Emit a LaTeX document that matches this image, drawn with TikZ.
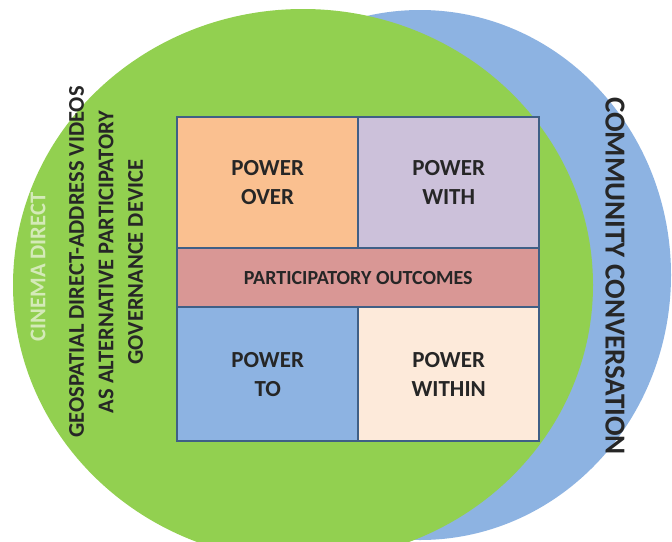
\documentclass[tikz,border=0pt]{standalone}
\usepackage{fontspec}
\setmainfont{Carlito}
\begin{document}
\begin{tikzpicture}[x=1pt,y=-1pt,
  every node/.style={font=\bfseries, text=inkdark, inner sep=0pt},
  cell/.style={draw=edgeblue, line width=2.4pt, anchor=north west, align=center,
               font=\bfseries\fontsize{23}{29}\selectfont},
  sidetext/.style={align=center, font=\bfseries\fontsize{22.5}{29.5}\selectfont}]
\definecolor{inkdark}{HTML}{262626}
\definecolor{edgeblue}{HTML}{3F5F86}
\definecolor{greenbg}{HTML}{92D050}
\definecolor{bluebg}{HTML}{8DB3E2}
\definecolor{overfill}{HTML}{FAC090}
\definecolor{withfill}{HTML}{CCC1DA}
\definecolor{outfill}{HTML}{D99795}
\definecolor{tofill}{HTML}{8DB3E2}
\definecolor{withinfill}{HTML}{FDEADA}
\definecolor{cinema}{HTML}{D4EAB8}
\fill[white] (0,0) rectangle (672,541);
\clip (0,0) rectangle (672,541);
% the two overlapping fields
\fill[bluebg] (420,275) ellipse [x radius=251pt, y radius=265pt];
\fill[greenbg] (303,285) ellipse [x radius=290pt, y radius=276pt];
% the four power quadrants and the central band
\node[cell, fill=overfill, minimum width=181pt, minimum height=131pt] (over) at (176,116) {POWER\\OVER};
\node[cell, fill=withfill, minimum width=181pt, minimum height=131pt] (with) at (357,116) {POWER\\WITH};
\node[cell, fill=outfill, minimum width=362pt, minimum height=59pt,
      font=\bfseries\fontsize{20}{22}\selectfont] (outcomes) at (176,247) {PARTICIPATORY OUTCOMES};
\node[cell, fill=tofill, minimum width=181pt, minimum height=134pt] (to) at (176,306) {POWER\\TO};
\node[cell, fill=withinfill, minimum width=181pt, minimum height=134pt] (within) at (357,306) {POWER\\WITHIN};
% side captions
\node[rotate=90, text=cinema, font=\bfseries\fontsize{22.5}{25}\selectfont] (cd) at (38,267) {CINEMA DIRECT};
\node[sidetext, rotate=90] (device) at (106,262) {GEOSPATIAL DIRECT-ADDRESS VIDEOS\\AS ALTERNATIVE PARTICIPATORY\\GOVERNANCE DEVICE};
\node[rotate=-90, font=\bfseries\fontsize{29}{32}\selectfont] (cc) at (615,276) {COMMUNITY CONVERSATION};
\end{tikzpicture}
\end{document}
